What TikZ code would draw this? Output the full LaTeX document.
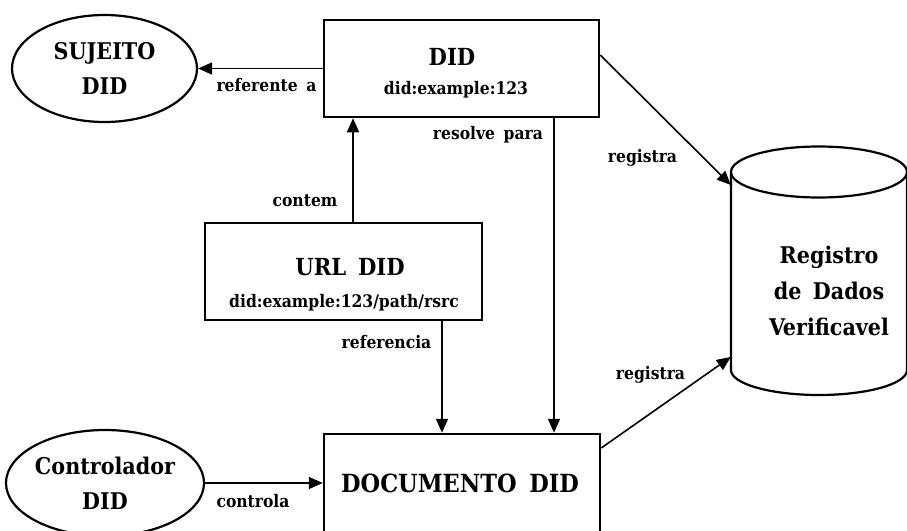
\documentclass[tikz,border=0pt]{standalone}
\usepackage{fontspec}
\setmainfont{DejaVu Serif Condensed}[WordSpace=1.6]
\usetikzlibrary{shapes.geometric,arrows.meta}
\tikzset{
  frame/.style={draw, line width=2.5pt, inner sep=0pt},
  oval/.style={draw, ellipse, line width=2.2pt, inner sep=0pt, align=center,
    font=\bfseries\fontsize{23}{35}\selectfont},
  link/.style={line width=1.6pt, -{Triangle[length=14pt,width=12pt]}},
  title/.style={inner sep=0pt, font=\bfseries\fontsize{23.5}{26}\selectfont},
  sub/.style={inner sep=0pt, font=\bfseries\fontsize{17.3}{20}\selectfont},
  lbl/.style={inner sep=0pt, font=\bfseries\fontsize{17.3}{20}\selectfont},
}
\begin{document}
\begin{tikzpicture}[x=1pt, y=-1pt]
\useasboundingbox (0,0) rectangle (907,530);
\clip (0,0) rectangle (907,530);

% entities
\node[oval, minimum width=185pt, minimum height=107pt] (subj) at (104.5,68.5) {SUJEITO\\DID};
\node[frame, minimum width=275pt, minimum height=97pt] (did) at (461.5,68.5) {};
\node[title] (didname) at (452,57) {DID};
\node[sub] (didid) at (456,90) {did:example:123};

\node[frame, minimum width=277pt, minimum height=97pt] (url) at (343.5,271.5) {};
\node[title] (urlname) at (350,267) {URL DID};
\node[sub] (urlid) at (344,303) {did:example:123/path/rsrc};

\node[frame, minimum width=276pt, minimum height=126pt] (doc) at (462,497) {};
\node[title, font=\bfseries\fontsize{25}{28}\selectfont] (docname) at (460,483) {DOCUMENTO DID};

\node[oval, minimum width=186pt, minimum height=106pt] (ctrl) at (105,483) {Controlador\\DID};

% verifiable data registry (cylinder)
\node[inner sep=0pt, minimum width=176pt, minimum height=249pt] (db) at (819,270.5) {};
\draw[line width=2.2pt] (731,172) -- (731,370)
  arc[start angle=180, end angle=360, x radius=88pt, y radius=25pt] -- (907,172);
\draw[line width=2.2pt] (819,172) ellipse [x radius=88pt, y radius=25.5pt];
\node[inner sep=0pt, align=center, font=\bfseries\fontsize{23}{36}\selectfont] (dbname) at (829,291)
  {Registro\\de Dados\\Verificavel};

% relations
\draw[link] (did.west) -- (subj.east);
\node[lbl] (l1) at (266.5,85) {referente a};

\draw[link] ([xshift=9.5pt]url.north) -- ([xshift=9.5pt]url.north |- did.south);
\node[lbl] (l2) at (305,201) {contem};

\draw[link] ([xshift=92.5pt]did.south) -- ([xshift=92.5pt]did.south |- doc.north);
\node[lbl] (l3) at (488,135) {resolve para};

\draw[link] ([xshift=98.5pt]url.south) -- ([xshift=98.5pt]url.south |- doc.north);
\node[lbl] (l4) at (386.5,342) {referencia};

\draw[link] (ctrl.east) -- (ctrl.east -| doc.west);
\node[lbl] (l5) at (253,501) {controla};

\draw[link] ([yshift=13.5pt]did.east) -- ([yshift=85.5pt]db.west);
\node[lbl] (l6) at (642.5,158) {registra};

\draw[link] ([yshift=49pt]doc.east) -- ([yshift=-86.5pt]db.west);
\node[lbl] (l7) at (650.5,375) {registra};
\end{tikzpicture}
\end{document}
